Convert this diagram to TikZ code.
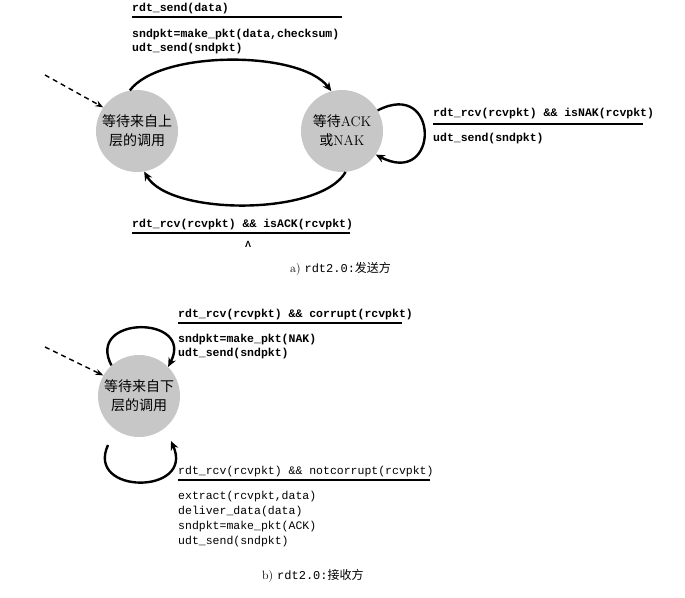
\documentclass[tikz,border=0pt]{standalone}
\usepackage{fontspec}
\newfontfamily\cjk{Noto Sans CJK SC}
\newfontfamily\codefont{Liberation Mono}
\newfontfamily\greekfont{Liberation Sans}
\usetikzlibrary{arrows.meta}
\begin{document}
\begin{tikzpicture}[x=1pt,y=-1pt,
  state/.style={circle,fill=black!22,minimum size=82pt,inner sep=0pt,align=center,
    font=\fontsize{14}{19}\selectfont},
  code/.style={anchor=base west,inner sep=0pt,font=\codefont\bfseries\fontsize{11.5}{14}\selectfont},
  plain/.style={anchor=base west,inner sep=0pt,font=\codefont\fontsize{11.5}{14}\selectfont},
  trans/.style={-{Stealth[length=9pt,width=8pt]},line width=2.4pt},
  init/.style={-{Stealth[length=8pt,width=6pt]},line width=1.4pt,dash pattern=on 5pt off 4pt},
  bar/.style={line width=1.3pt}]
  \useasboundingbox (0,0) rectangle (685,597);
  % a) sender
  \node[state](sndWait) at (137,131){{\cjk 等待来自上}\\{\cjk 层的调用}};
  \node[state](sndAck) at (342,131){{\cjk 等待}ACK\\{\cjk 或}NAK};
  \coordinate (sndInit) at (45,75);
  \draw[init](sndInit)--(sndWait.145);
  \draw[trans](sndWait.100)..controls(160,50)and(300,50)..(sndAck.105);
  \draw[trans](sndAck.-85)..controls(320,216)and(170,216)..(sndWait.-80);
  \draw[trans](sndAck.30)..controls(440,78)and(440,188)..(sndAck.-35);
  \node[code](sendEvt) at (132,12){rdt\_send(data)};
  \draw[bar](132,17)--(342,17);
  \node[code](sendAct1) at (132,37){sndpkt=make\_pkt(data,checksum)};
  \node[code](sendAct2) at (132,51){udt\_send(sndpkt)};
  \node[code](nakEvt) at (433,116){rdt\_rcv(rcvpkt) \&\& isNAK(rcvpkt)};
  \draw[bar](433,124)--(643,124);
  \node[code](nakAct) at (433,141){udt\_send(sndpkt)};
  \node[code](ackEvt) at (132,227){rdt\_rcv(rcvpkt) \&\& isACK(rcvpkt)};
  \draw[bar](132,233)--(350,233);
  \node[inner sep=0pt,font=\greekfont\bfseries\fontsize{9}{10}\selectfont](ackAct) at (248,244){Λ};
  \node[anchor=base west,inner sep=0pt,font=\fontsize{12}{14}\selectfont](capA) at (290,272)
    {a) {\codefont rdt2.0:}{\cjk 发送方}};
  % b) receiver
  \node[state](rcvWait) at (139,396){{\cjk 等待来自下}\\{\cjk 层的调用}};
  \coordinate (rcvInit) at (45,347);
  \coordinate (lpS) at (108,445);
  \coordinate (lpE) at (171,441);
  \draw[init](rcvInit)--(rcvWait.150);
  \draw[trans](rcvWait.132)..controls(85,315)and(195,315)..(rcvWait.45);
  \draw[trans](lpS)..controls(85,495)and(195,495)..(lpE);
  \node[code](badEvt) at (178,317){rdt\_rcv(rcvpkt) \&\& corrupt(rcvpkt)};
  \draw[bar](178,323)--(402,323);
  \node[code](badAct1) at (178,342){sndpkt=make\_pkt(NAK)};
  \node[code](badAct2) at (178,356){udt\_send(sndpkt)};
  \node[plain](okEvt) at (178,474){rdt\_rcv(rcvpkt) \&\& notcorrupt(rcvpkt)};
  \draw[bar](178,480)--(430,480);
  \node[plain](okAct1) at (178,499){extract(rcvpkt,data)};
  \node[plain](okAct2) at (178,514){deliver\_data(data)};
  \node[plain](okAct3) at (178,529){sndpkt=make\_pkt(ACK)};
  \node[plain](okAct4) at (178,544){udt\_send(sndpkt)};
  \node[anchor=base west,inner sep=0pt,font=\fontsize{12}{14}\selectfont](capB) at (262,579)
    {b) {\codefont rdt2.0:}{\cjk 接收方}};
\end{tikzpicture}
\end{document}
